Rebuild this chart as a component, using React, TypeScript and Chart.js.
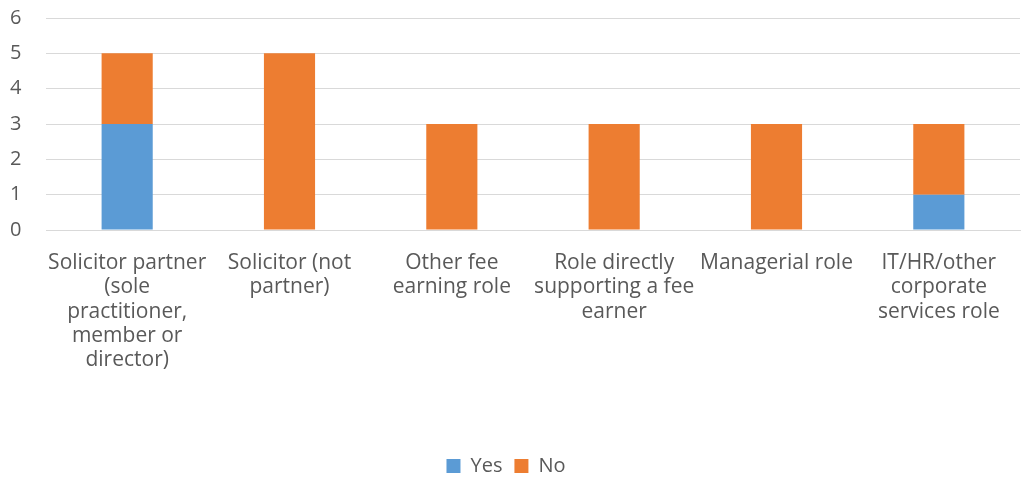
import React, { useEffect, useRef } from "react";
import { Chart, registerables } from "chart.js";

Chart.register(...registerables);

const categories: string[][] = [
  ["Solicitor partner", "(sole", "practitioner,", "member or", "director)"],
  ["Solicitor (not", "partner)"],
  ["Other fee", "earning role"],
  ["Role directly", "supporting a fee", "earner"],
  ["Managerial role"],
  ["IT/HR/other", "corporate", "services role"],
];
const yesValues = [3, 0, 0, 0, 0, 1];
const noValues = [2, 5, 3, 3, 3, 2];
const yTicks = [0, 1, 2, 3, 4, 5, 6];

const FONT = "'Open Sans', sans-serif";
const TEXT = "#595959";
const GRID = "#D9D9D9";
const LEGEND_PAD = 12;
const LEGEND_FONT = 20;

const legendShift = {
  id: "legendShift",
  afterLayout(chart: any) {
    const lg = chart.legend;
    if (!lg) return;
    const h = lg.height;
    lg.top = 466 - LEGEND_PAD - LEGEND_FONT / 2;
    lg.bottom = lg.top + h;
    lg.left -= 9;
    lg.right -= 9;
  },
};

export default function App() {
  const ref = useRef<HTMLCanvasElement | null>(null);
  useEffect(() => {
    if (!ref.current) return;
    const chart = new Chart(ref.current, {
      type: "bar",
      data: {
        labels: categories,
        datasets: [
          { label: "Yes", data: yesValues, backgroundColor: "#5B9BD5", barPercentage: 0.315, categoryPercentage: 1 },
          { label: "No", data: noValues, backgroundColor: "#ED7D31", barPercentage: 0.315, categoryPercentage: 1 },
        ],
      },
      plugins: [legendShift],
      options: {
        animation: false,
        responsive: false,
        maintainAspectRatio: false,
        layout: { padding: { top: 18, right: 6, left: 10, bottom: 0 } },
        plugins: {
          tooltip: { enabled: false },
          legend: {
            position: "bottom",
            labels: {
              boxWidth: 14,
              boxHeight: 14,
              padding: LEGEND_PAD,
              color: TEXT,
              font: { family: FONT, size: LEGEND_FONT },
            },
          },
        },
        scales: {
          x: {
            stacked: true,
            grid: { display: false },
            border: { color: GRID, width: 1 },
            ticks: {
              color: TEXT,
              font: { family: FONT, size: 21, lineHeight: 1.155 },
              maxRotation: 0,
              autoSkip: false,
              padding: 13,
            },
            afterFit: (scale: any) => {
              const lh = scale.chart.legend ? scale.chart.legend.height : 34;
              scale.height = 479 - 230 - lh;
            },
          },
          y: {
            stacked: true,
            min: 0,
            max: 6,
            afterBuildTicks: (scale: any) => {
              scale.ticks = yTicks.map((v) => ({ value: v }));
            },
            grid: { color: GRID, lineWidth: 1, drawTicks: false },
            border: { display: false },
            ticks: {
              color: TEXT,
              font: { family: FONT, size: 20 },
              padding: 0,
              crossAlign: "far",
            },
            afterFit: (scale: any) => {
              scale.width = 36;
            },
          },
        },
      },
    });
    return () => chart.destroy();
  }, []);
  return (
    <div style={{ position: "fixed", left: 0, top: 0, width: 1026, height: 479, background: "#fff" }}>
      <canvas ref={ref} width={1026} height={479} style={{ width: 1026, height: 479 }} />
    </div>
  );
}
